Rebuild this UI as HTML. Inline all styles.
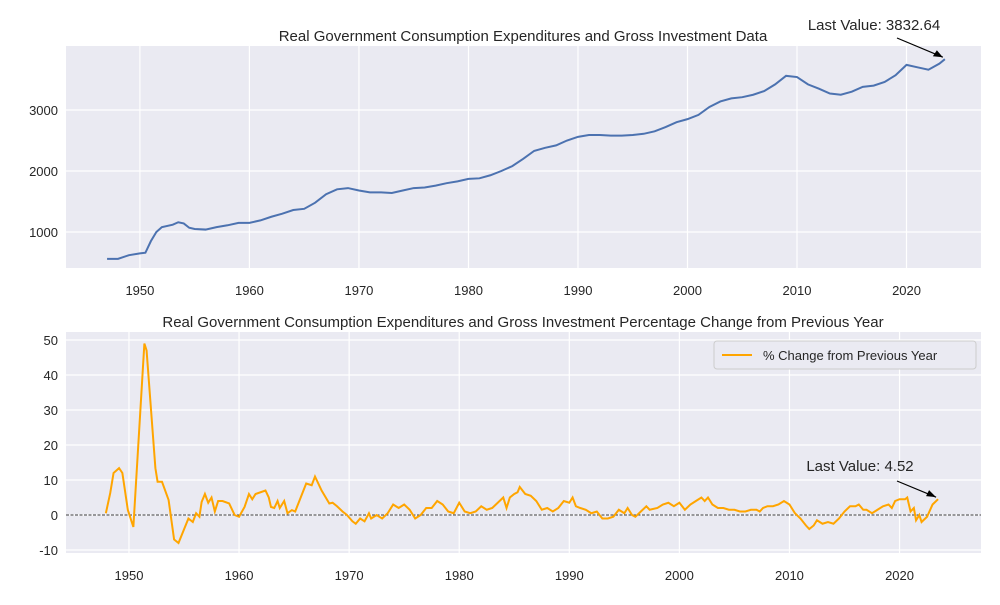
<!DOCTYPE html>
<html><head><meta charset="utf-8"><style>
body{margin:0;background:#fff;font-family:"Liberation Sans",Arial,sans-serif}
text{font-family:"Liberation Sans",Arial,sans-serif}
</style></head><body>
<svg id="c" width="1000" height="600"></svg>
<script>
const topYears=[1947,1948,1949,1950,1950.5,1951,1951.5,1952,1953,1953.5,1954,1954.5,1955,1956,1957,1958,1959,1960,1961,1962,1963,1964,1965,1966,1967,1968,1969,1970,1971,1972,1973,1974,1975,1976,1977,1978,1979,1980,1981,1982,1983,1984,1985,1986,1987,1988,1989,1990,1991,1992,1993,1994,1995,1996,1997,1998,1999,2000,2001,2002,2003,2004,2005,2006,2007,2008,2009,2010,2011,2012,2013,2014,2015,2016,2017,2018,2019,2020,2021,2022,2023,2023.5];
const topValues=[560,560,620,650,660,850,1000,1080,1120,1160,1140,1070,1050,1040,1080,1110,1150,1150,1190,1250,1300,1360,1380,1480,1620,1700,1720,1680,1650,1650,1640,1680,1720,1730,1760,1800,1830,1870,1880,1930,2000,2080,2200,2330,2380,2420,2500,2560,2590,2590,2580,2580,2590,2610,2650,2720,2800,2850,2920,3050,3140,3190,3210,3250,3310,3420,3560,3540,3420,3350,3270,3250,3300,3380,3400,3460,3570,3740,3700,3660,3760,3832.64];
const botYears=[1947.9,1948.3,1948.6,1949.1,1949.4,1949.9,1950.4,1951.4,1951.6,1952.4,1952.6,1953,1953.6,1954.1,1954.5,1955.4,1955.8,1956.1,1956.4,1956.6,1956.9,1957.2,1957.5,1957.8,1958.1,1958.5,1959.1,1959.6,1960,1960.5,1960.9,1961.2,1961.5,1962.4,1962.7,1962.9,1963.2,1963.5,1963.7,1964.1,1964.4,1964.8,1965.1,1965.6,1966.1,1966.6,1966.9,1967.5,1968.2,1968.5,1968.9,1969.4,1969.8,1970.3,1970.6,1971,1971.4,1971.8,1972,1972.5,1973,1973.5,1974,1974.5,1975,1975.5,1976,1976.5,1977,1977.5,1978,1978.5,1979,1979.5,1980,1980.5,1981,1981.5,1982,1982.5,1983,1983.5,1984,1984.3,1984.6,1985,1985.3,1985.5,1986,1986.5,1987,1987.5,1988,1988.5,1989,1989.5,1990,1990.3,1990.6,1991,1991.5,1992,1992.5,1993,1993.5,1994,1994.5,1995,1995.3,1995.7,1996,1996.5,1997,1997.3,1998,1998.5,1999,1999.5,2000,2000.5,2001,2001.5,2002,2002.3,2002.6,2003,2003.5,2004,2004.5,2005,2005.5,2006,2006.5,2007,2007.3,2007.6,2008,2008.5,2009,2009.5,2010,2010.5,2011,2011.5,2011.8,2012.2,2012.5,2013,2013.5,2014,2014.5,2015,2015.5,2016,2016.3,2016.7,2017,2017.5,2018,2018.5,2019,2019.3,2019.6,2020,2020.5,2020.7,2021,2021.3,2021.5,2021.8,2022,2022.5,2023,2023.5];
const botValues=[0.5,6.3,12,13.4,12,1.4,-3.4,49,47,13.4,9.5,9.5,4.3,-7,-8,-1,-2,0.5,-0.5,3.7,6,3.5,5,1,4,4,3.3,0,-0.5,2.3,6,4.5,6,7,5,2.3,2,4,2,4,0.5,1.4,1,5,9,8.5,11,7,3.3,3.5,2.5,1,0,-1.8,-2.5,-1,-1.8,0.5,-1,0,-1,0.5,3,2,3,1.5,-1,0,2,2,4,3,1,0.5,3.5,1,0.5,1,2.5,1.5,2,3.5,5,2,5,6,6.5,8,6,5.5,4,1.5,2,1,2,4,3.5,5,2.5,2,1.5,0.5,1,-1,-1,-0.5,1.5,0.5,2,0,-0.5,1,2.5,1.5,2,3,3.5,2.5,3.5,1.5,3,4,5,4,5,3,2,2,1.5,1.5,1,1,1.5,1.5,1,2,2.5,2.5,3,4,3,0.5,-1,-3,-4,-3,-1.5,-2.5,-2,-2.5,-1,1,2.5,2.5,3,1.5,1.5,0.5,1.5,2.5,3,2,4,4.5,4.5,5,1,2,-1.5,0,-2,-0.5,3,4.52];
const xTicks=[1950,1960,1970,1980,1990,2000,2010,2020];
const topYTicks=[1000,2000,3000];
const botYTicks=[-10,0,10,20,30,40,50];

const NS="http://www.w3.org/2000/svg",svg=document.getElementById('c');
function mk(tag,attrs,parent){const e=document.createElementNS(NS,tag);for(const k in attrs)e.setAttribute(k,attrs[k]);(parent||svg).appendChild(e);return e;}
function txt(s,attrs){const e=mk('text',attrs);e.textContent=s;return e;}
const L=66,R=981;
const tT=46,tB=268;
const xT=y=>L+(y-1943.25)*(R-L)/(2026.8-1943.25);
const yT=v=>232-(v-1000)*0.061;
const bg1=mk('rect',{x:L,y:tT,width:R-L,height:tB-tT,fill:'#eaeaf2'});


xTicks.forEach(t=>{const l=mk('line',{x1:xT(t),x2:xT(t),y1:tT,y2:tB,stroke:'#fff','stroke-width':1.2});


const s=txt(t,{x:xT(t),y:tB+27,'text-anchor':'middle','font-size':13,fill:'#262626'});

});
topYTicks.forEach(t=>{const l=mk('line',{x1:L,x2:R,y1:yT(t),y2:yT(t),stroke:'#fff','stroke-width':1.2});


const s=txt(t,{x:L-8,y:yT(t)+5,'text-anchor':'end','font-size':13,fill:'#262626'});

});
const p1=mk('polyline',{points:topYears.map((y,i)=>xT(y)+','+yT(topValues[i])).join(' '),fill:'none',stroke:'#4c72b0','stroke-width':2});


const t1=txt('Real Government Consumption Expenditures and Gross Investment Data',{x:523,y:41,'text-anchor':'middle','font-size':15,fill:'#262626'});


const lx1=xT(topYears[topYears.length-1]),ly1=yT(topValues[topValues.length-1]);
const a1=txt('Last Value: '+topValues[topValues.length-1].toFixed(2),{x:874,y:30,'text-anchor':'middle','font-size':15,fill:'#262626'});


mk('line',{x1:897,y1:38,x2:lx1-2,y2:ly1-2,stroke:'#000','stroke-width':1.2});
mk('polygon',{points:`${lx1-2},${ly1-2} ${lx1-12},${ly1-3} ${lx1-8},${ly1-9}`,fill:'#000'});
const bT=332,bB=553;
const xB=y=>L+(y-1944.28)*(R-L)/(2027.4-1944.28);
const yB=v=>515-v*3.5;
const bg2=mk('rect',{x:L,y:bT,width:R-L,height:bB-bT,fill:'#eaeaf2'});


xTicks.forEach(t=>{const l=mk('line',{x1:xB(t),x2:xB(t),y1:bT,y2:bB,stroke:'#fff','stroke-width':1.2});


const s=txt(t,{x:xB(t),y:bB+27,'text-anchor':'middle','font-size':13,fill:'#262626'});

});
botYTicks.forEach(t=>{const l=mk('line',{x1:L,x2:R,y1:yB(t),y2:yB(t),stroke:'#fff','stroke-width':1.2});


const s=txt(t,{x:L-8,y:yB(t)+5,'text-anchor':'end','font-size':13,fill:'#262626'});

});
const z=mk('line',{x1:L,x2:R,y1:yB(0),y2:yB(0),stroke:'#000','stroke-width':0.7,'stroke-dasharray':'3,1.5'});


const p2=mk('polyline',{points:botYears.map((y,i)=>xB(y)+','+yB(botValues[i])).join(' '),fill:'none',stroke:'orange','stroke-width':2});


const t2=txt('Real Government Consumption Expenditures and Gross Investment Percentage Change from Previous Year',{x:523,y:327,'text-anchor':'middle','font-size':15,fill:'#262626'});


const lx2=xB(botYears[botYears.length-1]),ly2=yB(botValues[botValues.length-1]);
const a2=txt('Last Value: '+botValues[botValues.length-1].toFixed(2),{x:860,y:471,'text-anchor':'middle','font-size':15,fill:'#262626'});


mk('line',{x1:897,y1:481,x2:lx2-2,y2:ly2-2,stroke:'#000','stroke-width':1.2});
mk('polygon',{points:`${lx2-2},${ly2-2} ${lx2-12},${ly2-3} ${lx2-9},${ly2-9}`,fill:'#000'});
const lg=mk('g',{});


mk('rect',{x:714,y:341,width:262,height:28,rx:3,fill:'#eaeaf2',stroke:'#ccc','stroke-width':1},lg);
mk('line',{x1:722,x2:752,y1:355,y2:355,stroke:'orange','stroke-width':2},lg);
const lt=mk('text',{x:763,y:360,'font-size':13,fill:'#262626'},lg);lt.textContent='% Change from Previous Year';
</script>
</body></html>
